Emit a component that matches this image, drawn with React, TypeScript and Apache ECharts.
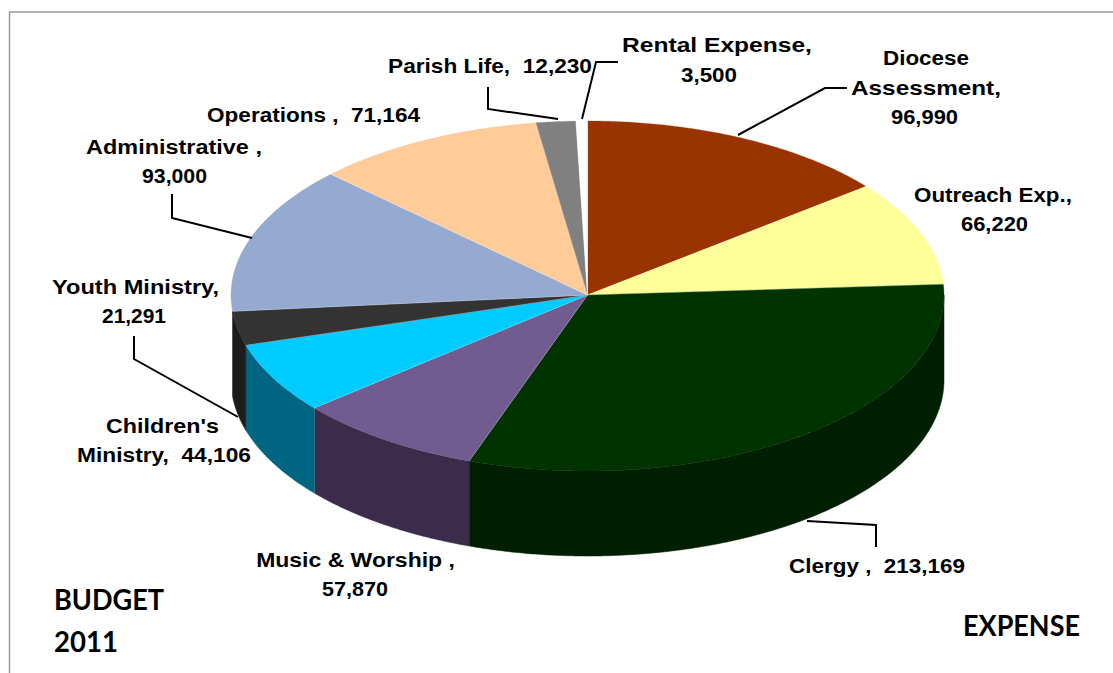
import React, { useEffect, useRef } from "react";
import * as echarts from "echarts";

const categories = ["Diocese Assessment", "Outreach Exp.", "Clergy", "Music & Worship", "Children's Ministry", "Youth Ministry", "Administrative", "Operations", "Parish Life", "Rental Expense"];
const values = [96990, 66220, 213169, 57870, 44106, 21291, 93000, 71164, 12230, 3500];
const topColors = ["#993300", "#FFFF99", "#003300", "#715C90", "#00CCFF", "#333333", "#95A9D1", "#FFCC99", "#808080", "#FFFFFF"];
const sideColors = ["#5C1F00", "#99995C", "#001F00", "#3B2C4B", "#006583", "#1C1C1C", "#4A5468", "#997A5C", "#4D4D4D", "#999999"];

const CX = 587.5, CY = 295, RX = 356.5, RY_BACK = 174, RY_FRONT = 176, DEPTH = 85;
const LABEL_FONT = '"Liberation Sans", Arial, sans-serif';
const NOTE_FONT = 'Lato, "Open Sans", sans-serif';

const total = values.reduce((a, b) => a + b, 0);
const startDeg: number[] = [];
values.reduce((acc, v, i) => { startDeg[i] = (acc / total) * 360; return acc + v; }, 0);

function pt(deg: number, dy = 0): number[] {
  const r = (deg * Math.PI) / 180;
  const c = Math.cos(r);
  return [CX + RX * Math.sin(r), CY - (c > 0 ? RY_BACK : RY_FRONT) * c + dy];
}
function arc(a: number, b: number, dy = 0): number[][] {
  const out: number[][] = [];
  const n = Math.max(2, Math.ceil((b - a) * 2));
  for (let i = 0; i <= n; i++) out.push(pt(a + ((b - a) * i) / n, dy));
  return out;
}

function renderTop(params: any, api: any) {
  const i = params.dataIndex;
  const a = startDeg[i];
  const b = a + (api.value(0) / total) * 360;
  return {
    type: "group",
    children: [
      {
        type: "polygon",
        shape: { points: [[CX, CY], ...arc(a, b)] },
        style: { fill: topColors[i], stroke: topColors[i], lineWidth: 0.3 },
      },
      {
        type: "polyline",
        shape: { points: [pt(a), [CX, CY], pt(b)] },
        style: { fill: "none", stroke: "rgba(255,255,255,0.28)", lineWidth: 0.7 },
      },
    ],
  };
}
function renderWall(params: any, api: any) {
  const i = params.dataIndex;
  const a = Math.max(startDeg[i], 90);
  const b = Math.min(startDeg[i] + (api.value(0) / total) * 360, 270);
  if (b <= a || b - a < 6) return null;
  const children: any[] = [
    {
      type: "polygon",
      shape: { points: [...arc(a, b), ...arc(a, b, DEPTH).reverse()] },
      style: { fill: sideColors[i], stroke: sideColors[i], lineWidth: 0.5 },
    },
  ];
  if (categories[i] === "Music & Worship") {
    children.push({
      type: "polyline",
      shape: { points: [pt(b), pt(b, DEPTH)] },
      style: { fill: "none", stroke: "rgba(255,255,255,0.45)", lineWidth: 0.8 },
    });
  }
  return { type: "group", children };
}

// [text, left, right, centre y]
const labelLines: [string, number, number, number][] = [
  ["Rental Expense,", 622, 812, 45],
  ["3,500", 681, 737, 75],
  ["Diocese", 883, 969, 58],
  ["Assessment,", 851, 1001, 88],
  ["96,990", 891, 958, 117],
  ["Outreach Exp.,", 914, 1072, 195],
  ["66,220", 961, 1028, 224],
  ["Clergy ,  213,169", 789, 965, 566],
  ["Music & Worship ,", 256, 455, 560],
  ["57,870", 322, 388, 589],
  ["Children's", 106, 219, 426],
  ["Ministry,  44,106", 77, 251, 455],
  ["Youth Ministry,", 52, 219, 287],
  ["21,291", 102, 166, 316],
  ["Administrative ,", 86, 262, 147],
  ["93,000", 142, 207, 176],
  ["Operations ,  71,164", 207, 420, 115],
  ["Parish Life,  12,230", 388, 592, 66],
];
const noteLines: [string, number, number, number][] = [
  ["BUDGET", 54, 164, 599],
  ["2011", 54, 118, 641],
  ["EXPENSE", 963, 1080, 625],
];
const leaders: number[][][] = [
  [[582, 119], [596, 62], [618, 62]],
  [[488, 87], [488, 109], [558, 119]],
  [[738, 135], [825, 88], [847, 88]],
  [[807, 521], [876, 525], [876, 547]],
  [[134, 336], [134, 359], [238, 417]],
  [[172, 194], [172, 218], [252, 238]],
];

const ctx = document.createElement("canvas").getContext("2d")!;
function textEl(t: [string, number, number, number], font: string, size: number) {
  const [text, l, r, y] = t;
  const f = `bold ${size}px ${font}`;
  ctx.font = f;
  const w = ctx.measureText(text).width;
  return {
    type: "text",
    x: (l + r) / 2,
    y,
    scaleX: (r - l) / w,
    silent: true,
    style: {
      text, x: 0, y: 0, align: "center", verticalAlign: "middle",
      font: f, fill: "#000000",
    },
  };
}

export default function App() {
  const ref = useRef<HTMLDivElement>(null);
  useEffect(() => {
    document.body.style.margin = "0";
    const chart = echarts.init(ref.current!, null, { renderer: "svg" });
    const data = values.map((v, i) => ({ name: categories[i], value: v }));
    chart.setOption({
      animation: false,
      backgroundColor: "#FFFFFF",
      series: [
        { type: "custom", coordinateSystem: "none", renderItem: renderWall, data, silent: true, z: 1 },
        { type: "custom", coordinateSystem: "none", renderItem: renderTop, data, silent: true, z: 2 },
      ],
      graphic: [
        { type: "polyline", silent: true, shape: { points: [[9.5, 673], [9.5, 12], [1113, 12]] }, style: { fill: "none", stroke: "#9A9A9A", lineWidth: 1.5 } },
        ...leaders.map((points) => ({ type: "polyline", silent: true, z: 20, shape: { points }, style: { fill: "none", stroke: "#000000", lineWidth: 2 } })),
        ...labelLines.map((t) => textEl(t, LABEL_FONT, 20.5)),
        ...noteLines.map((t) => textEl(t, NOTE_FONT, 28)),
      ],
    });
    return () => chart.dispose();
  }, []);
  return <div ref={ref} style={{ width: 1113, height: 673 }} />;
}
